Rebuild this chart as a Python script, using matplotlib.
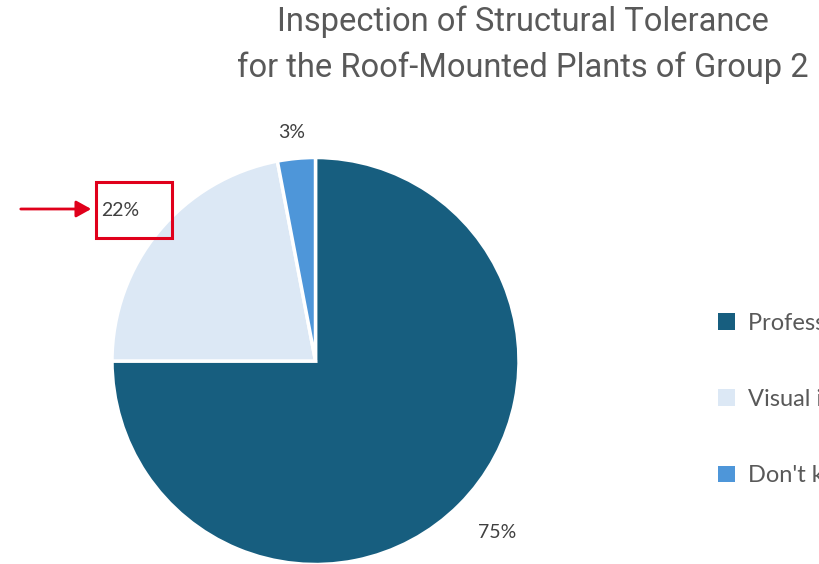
import matplotlib
matplotlib.use("Agg")
import matplotlib.pyplot as plt
from matplotlib.patches import Rectangle, FancyArrowPatch

categories = ["Professional inspection", "Visual inspection", "Don't know"]
shares = [75, 22, 3]
colors = ["#175E7F", "#DCE8F5", "#4E96D9"]
title_lines = ["Inspection of Structural Tolerance",
               "for the Roof-Mounted Plants of Group 2"]

W, H = 819, 564
fig = plt.figure(figsize=(W / 100, H / 100), dpi=100)
ax = fig.add_axes([0, 0, 1, 1])

cx, cy, r = 315.5, H - 361, 203.5
wedges, _ = ax.pie(shares, colors=colors, startangle=90, counterclock=False,
                   center=(cx, cy), radius=r, frame=True,
                   wedgeprops=dict(edgecolor="white", linewidth=2.5))
ax.set_xlim(0, W)
ax.set_ylim(0, H)
ax.set_aspect("equal")
ax.axis("off")

label_font = ["Lato", "DejaVu Sans"]
label_pos = [(497, 533), (120, 210), (292, 132)]
for v, (x, y) in zip(shares, label_pos):
    ax.text(x, H - y, f"{v}%", ha="center", va="center", fontsize=14,
            color="#404040", family=label_font)

# highlight box and arrow around the 22% label
red = "#E0001B"
ax.add_patch(Rectangle((95.5, H - 237.5), 76, 56, fill=False,
                       edgecolor=red, linewidth=2.2))
ax.add_patch(FancyArrowPatch((18, H - 209), (94, H - 209),
                             arrowstyle="-|>,head_length=9,head_width=5",
                             color=red, linewidth=2, mutation_scale=1))

for i, line in enumerate(title_lines):
    fig.text(523 / W, 1 - (22 + 46 * i) / H, line, ha="center", va="center",
             fontsize=23.5, color="#595959", family=["Roboto", "DejaVu Sans"])

leg = ax.legend(wedges, categories, loc="upper left",
                bbox_to_anchor=(718 / W, 1 - 313 / H), bbox_transform=fig.transFigure,
                frameon=False, labelcolor="#595959",
                handlelength=0.7, handleheight=0.7, handletextpad=0.55,
                labelspacing=2.33, borderaxespad=0, borderpad=0,
                prop={"family": label_font, "size": 17})
for h in leg.legend_handles:
    h.set_edgecolor("none")

fig.savefig("out.png", dpi=100)
